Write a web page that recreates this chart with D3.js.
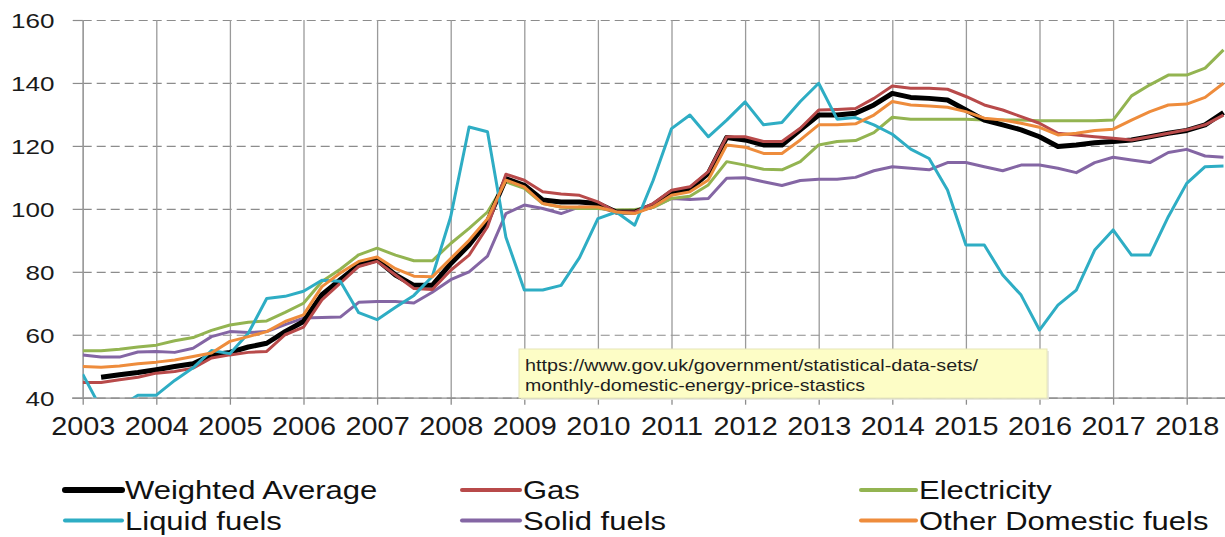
<!DOCTYPE html>
<html><head><meta charset="utf-8">
<script src="https://cdn.jsdelivr.net/npm/d3@7"></script>
<style>body{margin:0;background:#fff}svg{display:block}</style>
</head><body><svg id="c" width="1225" height="537"></svg>
<script>
const quarters = [
 2003,2003.25,2003.5,2003.75, 2004,2004.25,2004.5,2004.75, 2005,2005.25,2005.5,2005.75,
 2006,2006.25,2006.5,2006.75, 2007,2007.25,2007.5,2007.75, 2008,2008.25,2008.5,2008.75,
 2009,2009.25,2009.5,2009.75, 2010,2010.25,2010.5,2010.75, 2011,2011.25,2011.5,2011.75,
 2012,2012.25,2012.5,2012.75, 2013,2013.25,2013.5,2013.75, 2014,2014.25,2014.5,2014.75,
 2015,2015.25,2015.5,2015.75, 2016,2016.25,2016.5,2016.75, 2017,2017.25,2017.5,2017.75,
 2018,2018.25,2018.5];
const yearTicks = [2003,2004,2005,2006,2007,2008,2009,2010,2011,2012,2013,2014,2015,2016,2017,2018];
const valueTicks = [40,60,80,100,120,140,160];

const weightedAverage = [null,46.5,47.3,48.0, 48.9,49.9,50.8,53.6, 54.4,56.1,57.3,61.0, 64.2,72.7,77.5,82.2,
 83.8,79.0,75.7,75.7, 82.6,88.5,96.0,109.6, 107.5,102.8,102.2,102.2, 101.7,99.0,99.0,101.2,
 105.4,106.3,111.3,122.7, 121.9,120.3,120.3,125.1, 129.8,129.8,130.4,133.0, 136.7,135.4,135.1,134.6,
 131.4,128.2,126.7,125.1, 122.9,119.8,120.3,121.0, 121.4,121.9,122.9,124.0, 124.9,126.7,130.6];
const gas = [44.8,44.8,45.7,46.5, 47.8,48.3,49.4,52.6, 53.6,54.4,54.7,60.0, 62.4,71.1,76.4,81.7,
 83.3,79.0,74.7,74.4, 80.5,85.3,94.3,111.0, 109.1,105.4,104.7,104.3, 102.2,99.0,99.0,101.7,
 105.9,107.0,111.8,122.9, 122.9,121.4,121.4,125.6, 131.4,131.6,131.9,135.1, 139.0,138.3,138.3,138.0,
 135.7,133.0,131.4,129.3, 127.2,124.0,123.5,122.9, 122.4,121.9,122.9,124.0, 125.1,126.7,129.8];
const electricity = [54.9,54.9,55.4,56.1, 56.7,58.1,59.1,61.4, 63.1,64.0,64.4,67.1, 70.0,76.9,80.8,85.4,
 87.5,85.3,83.5,83.5, 89.0,93.8,99.0,108.6, 106.5,101.7,100.6,100.1, 100.1,99.6,99.8,100.4,
 103.3,104.0,107.6,115.0, 113.9,112.6,112.4,115.0, 120.3,121.4,121.7,124.2, 129.1,128.5,128.5,128.5,
 128.5,128.2,128.2,128.2, 128.0,128.0,128.0,128.0, 128.2,135.9,139.4,142.5, 142.5,144.7,150.5];
const liquidFuels = [47.5,36.5,37.0,40.8, 40.8,45.5,49.5,55.0, 54.0,60.5,71.5,72.2, 73.8,77.3,77.0,67.0,
 64.8,68.7,72.5,78.5, 97.5,126.0,124.5,91.0, 74.2,74.2,75.7,84.5, 96.9,99.0,94.8,109.0,
 125.5,129.8,122.9,128.2, 134.0,126.7,127.4,134.1, 139.9,128.5,129.0,126.7, 123.7,119.0,116.0,106.0,
 88.5,88.5,79.0,72.6, 61.5,69.4,74.2,86.9, 93.3,85.3,85.3,97.5, 108.1,113.4,113.6];
const solidFuels = [53.6,52.9,52.9,54.5, 54.7,54.4,55.7,59.4, 61.0,60.7,61.0,63.2, 65.3,65.5,65.6,70.3,
 70.6,70.6,70.1,73.5, 77.5,80.0,85.0,98.5, 101.2,100.1,98.5,100.6, 100.4,99.0,99.0,100.6,
 103.3,103.0,103.3,109.7, 109.9,108.6,107.4,109.0, 109.4,109.4,110.0,112.1, 113.4,112.9,112.4,114.7,
 114.7,113.4,112.1,113.9, 113.9,112.9,111.5,114.7, 116.4,115.5,114.7,117.9, 118.9,116.8,116.4];
const otherDomestic = [49.9,49.7,50.1,50.8, 51.3,52.0,53.1,54.2, 57.9,59.4,61.0,64.2, 66.3,75.3,79.6,83.3,
 84.7,81.0,78.6,78.4, 84.2,90.0,96.9,109.1, 107.0,101.7,100.6,100.6, 100.6,99.0,98.5,100.6,
 104.3,105.4,109.2,120.3, 119.6,117.6,117.6,121.9, 126.7,126.7,127.0,129.8, 134.1,133.0,132.7,132.3,
 130.9,128.8,128.2,127.2, 125.9,123.5,124.0,124.9, 125.3,128.2,130.9,133.0, 133.3,135.4,139.9];

const seriesNames = ["Weighted Average","Gas","Electricity","Liquid fuels","Solid fuels","Other Domestic fuels"];
const seriesColors = ["#000000","#b84a4a","#93b451","#2eadc4","#8466a4","#ee8c3c"];
const seriesValues = [weightedAverage,gas,electricity,liquidFuels,solidFuels,otherDomestic];
const noteLines = ["https://www.gov.uk/government/statistical-data-sets/","monthly-domestic-energy-price-stastics"];

const svg = d3.select("#c");
const FONT = "'Liberation Sans', Arial, Helvetica, sans-serif";
const L = 82.7, R = 1223.5, T = 20, B = 397.7;
const x = d3.scaleLinear().domain([2003, 2018.5]).range([L, R]);
const y = d3.scaleLinear().domain([40, 160]).range([B, T]);

function stretch(sel, factor, anchor) {
  sel.each(function () {
    const t = d3.select(this);
    const w = this.getComputedTextLength();
    const x0 = +(t.attr("x") || 0);
    const nw = w * factor;
    t.attr("text-anchor", "start")
     .attr("textLength", nw).attr("lengthAdjust", "spacingAndGlyphs")
     .attr("x", anchor === "end" ? x0 - nw : anchor === "middle" ? x0 - nw / 2 : x0);
  });
}

// horizontal dashed grid
const yGrid = svg.append("g").attr("transform", `translate(${L},0)`)
  .call(d3.axisLeft(y).tickValues(valueTicks).tickSize(-(1225 - L)).tickFormat(""));
yGrid.select(".domain").remove();
yGrid.selectAll("line").attr("stroke", "#8c8c8c").attr("stroke-width", 1.2).attr("stroke-dasharray", "9,5");

// vertical solid grid
const xGrid = svg.append("g").attr("transform", `translate(0,${B})`)
  .call(d3.axisBottom(x).tickValues(yearTicks).tickSize(-(B - T)).tickFormat(""));
xGrid.select(".domain").remove();
xGrid.selectAll("line").attr("stroke", "#9a9a9a").attr("stroke-width", 1.3);

// x axis
const xAxis = svg.append("g").attr("transform", `translate(0,${B})`)
  .call(d3.axisBottom(x).tickValues(yearTicks).tickSize(7).tickFormat(d3.format("d")));
xAxis.select(".domain").attr("d", `M${72},0.5H1225`).attr("stroke", "#8c8c8c").attr("stroke-width", 1.3);
xAxis.selectAll("line").attr("stroke", "#8c8c8c").attr("stroke-width", 1.3);
xAxis.selectAll("text").attr("y", 37.5).attr("dy", null)
  .attr("font-family", FONT).attr("font-size", 25.5).attr("fill", "#1a1a1a")
  .call(stretch, 1.13, "middle");

// y axis
const yAxis = svg.append("g").attr("transform", `translate(${L},0)`)
  .call(d3.axisLeft(y).tickValues(valueTicks).tickSize(10).tickFormat(d3.format("d")));
yAxis.select(".domain").attr("d", `M0.5,${T}V${B}`).attr("stroke", "#9a9a9a").attr("stroke-width", 1.3);
yAxis.selectAll("line").attr("stroke", "#8c8c8c").attr("stroke-width", 1.2);
yAxis.selectAll("text").attr("x", 54.5 - L).attr("dy", "0.35em")
  .attr("font-family", FONT).attr("font-size", 21).attr("fill", "#1a1a1a")
  .call(stretch, 1.24, "end");

// clip
svg.append("clipPath").attr("id", "plot").append("rect")
  .attr("x", L).attr("y", T - 5).attr("width", 1225 - L).attr("height", B - T + 5);

const line = d3.line()
  .defined(d => d != null)
  .x((d, i) => x(quarters[i]))
  .y(d => y(d));

const drawOrder = [4, 2, 0, 1, 3, 5];
const lines = svg.append("g").attr("clip-path", "url(#plot)");
drawOrder.forEach(k => {
  lines.append("path").datum(seriesValues[k])
    .attr("d", line).attr("fill", "none")
    .attr("stroke", seriesColors[k])
    .attr("stroke-width", k === 0 ? 5 : 3)
    .attr("stroke-linejoin", "round");
});

// note box
const note = svg.append("g");
note.append("rect").attr("x", 521).attr("y", 351).attr("width", 528).attr("height", 49)
  .attr("fill", "#e3e3d8").attr("opacity", 0.8);
note.append("rect").attr("x", 519).attr("y", 349).attr("width", 528).attr("height", 49)
  .attr("fill", "#fdfdc6").attr("stroke", "#e6e6b8").attr("stroke-width", 1);
const noteWidths = [453, 340];
note.selectAll("text").data(noteLines).join("text")
  .attr("x", 525).attr("y", (d, i) => 371 + i * 20)
  .attr("font-family", FONT).attr("font-size", 16).attr("fill", "#1e1e1e")
  .text(d => d)
  .each(function (d, i) {
    d3.select(this).attr("textLength", noteWidths[i]).attr("lengthAdjust", "spacingAndGlyphs");
  });

// legend
const legCols = [[65, 122], [462, 520], [861, 916]];
const legRows = [490, 520.5];
const leg = svg.append("g");
seriesNames.forEach((name, k) => {
  const c = legCols[k % 3], r = legRows[Math.floor(k / 3)];
  leg.append("line").attr("x1", c[0]).attr("x2", c[1]).attr("y1", r).attr("y2", r)
    .attr("stroke", seriesColors[k]).attr("stroke-width", k === 0 ? 6 : 4)
    .attr("stroke-linecap", "round");
  leg.append("text").attr("x", c[1] + 3).attr("y", r + 9)
    .attr("font-family", FONT).attr("font-size", 25).attr("fill", "#111")
    .text(name).call(stretch, 1.24, "start");
});
</script>
</body></html>
